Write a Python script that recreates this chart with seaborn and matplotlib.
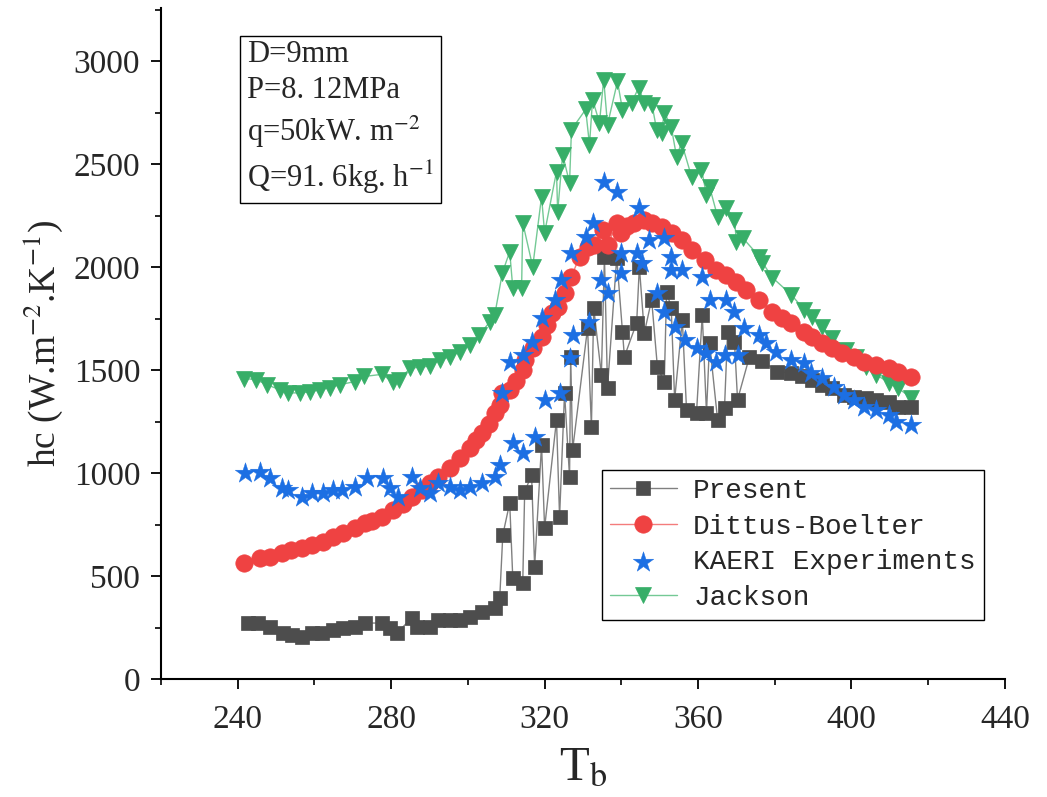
import numpy as np
import pandas as pd
import matplotlib
matplotlib.use("Agg")
import matplotlib.pyplot as plt
from matplotlib.ticker import MultipleLocator
import seaborn as sns

# ---------------- data ----------------
present_T = [242.7, 245.3, 248.4, 251.8, 254.1, 256.7, 259.3, 261.9, 264.8, 267.4,
             270.5, 273.1, 277.5, 279.6, 281.5, 285.4, 286.7, 290.0, 292.1, 295.3,
             297.9, 300.5, 303.6, 307.0, 308.3, 309.1, 310.9, 311.7, 314.3, 314.8,
             316.6, 317.4, 319.2, 320.0, 323.1, 323.9, 325.2, 326.5, 326.8, 327.3,
             331.2, 332.2, 332.8, 334.8, 335.6, 336.4, 338.8, 340.3, 340.8, 344.0,
             344.7, 346.0, 347.9, 349.4, 351.2, 351.8, 353.0, 353.9, 355.9, 357.0,
             359.6, 361.1, 362.2, 363.0, 365.1, 366.9, 367.7, 369.5, 370.3, 373.4,
             376.8, 380.7, 384.3, 387.0, 389.8, 392.4, 395.0, 398.1, 400.7, 403.9,
             406.5, 409.8, 412.0, 415.6]
present_hc = [272, 272, 253, 224, 214, 204, 224, 224, 238, 248,
              253, 272, 272, 248, 224, 297, 253, 253, 287, 287,
              287, 301, 326, 345, 394, 700, 856, 491, 467, 909,
              992, 545, 1138, 734, 1259, 788, 1390, 982, 1566, 1113,
              1706, 1225, 1804, 1478, 2052, 1415, 2047, 1687, 1566, 1731,
              2003, 1682, 1843, 1517, 1444, 1882, 1804, 1357, 1745, 1308,
              1293, 1770, 1293, 1634, 1259, 1318, 1687, 1638, 1357, 1566,
              1545, 1493, 1488, 1470, 1454, 1430, 1415, 1381, 1371, 1366,
              1357, 1347, 1322, 1322]

dittus_T = [241.6, 245.8, 248.4, 251.5, 254.0, 256.7, 259.3, 262.2, 264.8, 267.4,
            270.5, 273.1, 275.0, 277.5, 280.4, 283.0, 285.4, 288.0, 290.0, 292.1,
            295.3, 297.9, 300.5, 302.0, 303.6, 305.5, 307.0, 308.3, 309.0, 310.9,
            312.5, 314.3, 314.8, 317.0, 319.2, 320.5, 321.8, 323.4, 325.2, 327.0,
            329.1, 331.2, 332.8, 335.1, 336.4, 339.0, 340.0, 341.5, 343.4, 346.0,
            348.1, 350.7, 353.3, 355.9, 358.5, 361.7, 364.8, 367.4, 370.0, 372.6,
            376.0, 379.4, 382.0, 384.3, 387.7, 389.8, 392.4, 395.0, 397.6, 400.7,
            403.3, 406.5, 409.8, 412.0, 415.6]
dittus_hc = [564, 588, 595, 613, 625, 637, 651, 666, 690, 710,
             734, 758, 770, 788, 822, 850, 885, 919, 950, 982,
             1026, 1075, 1123, 1160, 1196, 1240, 1293, 1330, 1390, 1405,
             1450, 1502, 1551, 1610, 1663, 1720, 1779, 1809, 1877, 1955,
             2052, 2100, 2110, 2183, 2110, 2217, 2168, 2200, 2217, 2232,
             2217, 2198, 2168, 2134, 2086, 2037, 1989, 1964, 1930, 1891,
             1843, 1784, 1755, 1731, 1687, 1663, 1634, 1609, 1585, 1566,
             1541, 1527, 1512, 1493, 1468]

kaeri_T = [241.9, 245.8, 248.4, 251.5, 253.1, 256.7, 259.3, 262.2, 264.8, 267.1,
           270.5, 273.6, 277.8, 279.6, 281.7, 285.4, 287.4, 290.0, 292.1, 295.3,
           297.9, 300.5, 303.6, 307.0, 308.3, 308.8, 310.9, 311.7, 314.3, 314.3,
           316.6, 317.4, 319.2, 320.0, 322.6, 323.9, 324.4, 326.5, 327.0, 327.3,
           330.9, 331.7, 332.5, 334.8, 335.6, 336.4, 339.0, 340.0, 340.0, 344.0,
           344.7, 345.5, 347.3, 349.4, 351.2, 351.2, 353.0, 353.0, 353.9, 355.9,
           356.5, 359.6, 361.1, 362.2, 363.0, 364.8, 366.9, 367.4, 369.5, 370.3,
           372.1, 376.0, 377.8, 380.4, 384.3, 387.7, 389.5, 392.4, 395.5, 398.1,
           400.7, 403.3, 406.5, 409.8, 411.7, 415.6]
kaeri_hc = [1002, 1006, 977, 929, 919, 885, 904, 904, 919, 919,
            933, 977, 977, 929, 885, 982, 929, 904, 953, 933,
            919, 933, 953, 982, 1040, 1390, 1541, 1147, 1575, 1099,
            1638, 1177, 1755, 1356, 1843, 1390, 1940, 1561, 2071, 1672,
            2149, 1736, 2217, 1940, 2416, 1877, 2368, 2071, 1974, 2071,
            2290, 2022, 2134, 1877, 2144, 1784, 2052, 1989, 1711, 1989,
            1648, 1609, 1955, 1585, 1843, 1541, 1575, 1843, 1784, 1575,
            1706, 1672, 1634, 1590, 1551, 1536, 1488, 1463, 1420, 1381,
            1357, 1322, 1308, 1284, 1250, 1235]

jackson_T = [241.6, 244.7, 247.6, 251.0, 253.0, 256.2, 258.8, 261.4, 264.0, 266.6,
             270.5, 273.0, 277.5, 280.4, 282.0, 285.0, 287.4, 290.0, 292.6, 295.3,
             297.9, 300.5, 303.0, 305.7, 307.0, 309.0, 310.9, 311.7, 314.0, 314.3,
             316.9, 319.2, 320.0, 323.1, 323.4, 324.7, 326.5, 327.0, 330.7, 331.7,
             332.5, 334.3, 335.4, 336.4, 339.0, 340.3, 342.7, 344.5, 346.0, 348.0,
             349.2, 350.5, 351.2, 353.0, 354.4, 355.7, 358.3, 360.9, 362.2, 363.0,
             365.1, 367.4, 369.5, 370.0, 371.6, 376.0, 376.8, 379.4, 384.3, 387.7,
             389.8, 392.4, 395.0, 398.6, 401.3, 403.9, 406.5, 409.8, 412.0, 415.6]
jackson_hc = [1460, 1455, 1430, 1405, 1390, 1390, 1395, 1405, 1415, 1430,
              1445, 1470, 1480, 1445, 1455, 1510, 1515, 1520, 1550, 1565,
              1590, 1625, 1672, 1735, 1770, 1974, 2076, 1901, 1901, 2217,
              2003, 2343, 2168, 2465, 2270, 2548, 2411, 2669, 2767, 2596,
              2815, 2703, 2912, 2693, 2903, 2766, 2800, 2873, 2800, 2790,
              2669, 2655, 2752, 2684, 2538, 2606, 2441, 2475, 2353, 2392,
              2246, 2290, 2232, 2125, 2144, 2052, 2023, 1950, 1867, 1794,
              1760, 1711, 1658, 1600, 1566, 1517, 1478, 1439, 1415, 1366]

labels = ["Present", "Dittus-Boelter", "KAERI Experiments", "Jackson"]
info_lines = ["D=9mm", "P=8. 12MPa", "q=50kW. m$^{-2}$", "Q=91. 6kg. h$^{-1}$"]
xticks = [240, 280, 320, 360, 400, 440]
yticks = [0, 500, 1000, 1500, 2000, 2500, 3000]

# ---------------- style ----------------
sns.set_theme(style="ticks")
plt.rcParams["font.family"] = ["Liberation Serif", "DejaVu Serif"]
plt.rcParams["mathtext.fontset"] = "stix"

fig = plt.figure(figsize=(10.47, 7.97), dpi=100)
ax = fig.add_axes([0.1538, 0.148, 0.806, 0.842])

df_p = pd.DataFrame({"T": present_T, "hc": present_hc})
df_d = pd.DataFrame({"T": dittus_T, "hc": dittus_hc})
df_k = pd.DataFrame({"T": kaeri_T, "hc": kaeri_hc})
df_j = pd.DataFrame({"T": jackson_T, "hc": jackson_hc})

sns.lineplot(data=df_p, x="T", y="hc", ax=ax, sort=False, estimator=None,
             color="#808080", linewidth=1.0, marker="s", markersize=10,
             markerfacecolor="#4d4d4d", markeredgecolor="#4d4d4d",
             markeredgewidth=0.5, label=labels[0], zorder=3)
sns.lineplot(data=df_d, x="T", y="hc", ax=ax, sort=False, estimator=None,
             color="#f47c7c", linewidth=1.0, marker="o", markersize=12.5,
             markerfacecolor="#ef4242", markeredgecolor="#ef4242",
             markeredgewidth=0.5, label=labels[1], zorder=4)
sns.scatterplot(data=df_k, x="T", y="hc", ax=ax, marker="*", s=240,
                color="#1c6fe3", edgecolor="#1c6fe3", linewidth=0.3,
                label=labels[2], zorder=5)
sns.lineplot(data=df_j, x="T", y="hc", ax=ax, sort=False, estimator=None,
             color="#74c995", linewidth=1.0, marker="v", markersize=12,
             markerfacecolor="#37ae68", markeredgecolor="#37ae68",
             markeredgewidth=0.5, label=labels[3], zorder=2)

ax.set_xlim(220, 440)
ax.set_ylim(0, 3260)
ax.set_xticks(xticks)
ax.set_yticks(yticks)
ax.xaxis.set_minor_locator(MultipleLocator(20))
ax.yaxis.set_minor_locator(MultipleLocator(250))

for s in ["top", "right"]:
    ax.spines[s].set_visible(False)
for s in ["left", "bottom"]:
    ax.spines[s].set_linewidth(1.5)
    ax.spines[s].set_color("black")

ax.tick_params(axis="both", which="major", direction="out", length=7, width=1.3,
               color="black")
ax.tick_params(axis="both", which="minor", direction="out", length=4, width=1.2,
               color="black")
ax.tick_params(axis="y", which="major", labelsize=24, pad=8)
ax.tick_params(axis="x", which="major", labelsize=24, pad=11)

ax.set_xlabel("T$_\\mathrm{b}$", fontsize=35, labelpad=8)
ax.set_ylabel("hc (W.m$^{-2}$.K$^{-1}$)", fontsize=27, labelpad=6)

ax.text(0.102, 0.952, "\n".join(info_lines), transform=ax.transAxes,
        fontsize=22, va="top", ha="left", linespacing=1.32,
        bbox=dict(boxstyle="square,pad=0.22", facecolor="white",
                  edgecolor="black", linewidth=1.0), zorder=6)

handles, _ = ax.get_legend_handles_labels()
leg = ax.legend(handles, labels, loc="upper left", bbox_to_anchor=(0.522, 0.312),
                prop={"family": "Liberation Mono", "size": 20},
                frameon=True, fancybox=False, framealpha=1, edgecolor="black",
                handlelength=2.4, handletextpad=0.6, labelspacing=0.35,
                borderpad=0.3, borderaxespad=0)
leg.get_frame().set_linewidth(1.0)
leg.set_zorder(7)

fig.savefig("out.png", dpi=100)
